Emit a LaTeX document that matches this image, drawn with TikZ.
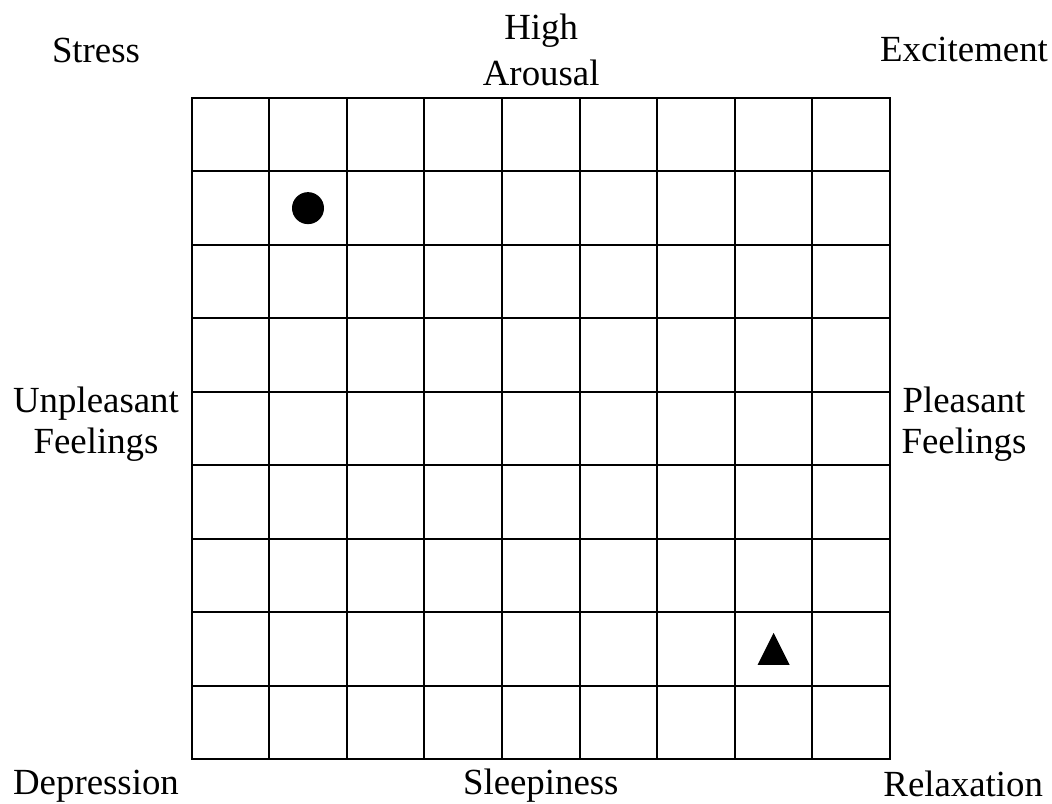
\documentclass[tikz,border=0pt]{standalone}
\usepackage{fontspec}
\setmainfont{Liberation Serif}
\usepackage{xcolor}
\usetikzlibrary{positioning, calc}

\begin{document}
\begin{tikzpicture}
  \tikzset{
    gridline/.style={line width=1.4pt, black},
    lbl/.style={font=\fontsize{26.2pt}{29.2pt}\selectfont, align=center, anchor=base, inner sep=0pt},
  }
  \useasboundingbox (0,0) rectangle (26.3,20.1);

  % Grid 9 x 9
  \foreach \i in {0,...,9} {
    \draw[gridline] ({4.79+\i*1.94},1.125) -- ({4.79+\i*1.94},17.65);
    \draw[gridline] (4.79,{1.125+\i*1.836}) -- (22.25,{1.125+\i*1.836});
  }
  \draw[gridline, line join=miter] (4.79,1.125) rectangle (22.25,17.65);

  % Markers
  \node[circle, fill=black, minimum size=0.8cm, inner sep=0pt] (dot) at (7.7,14.896) {};
  \coordinate (tri) at (19.34,3.88);
  \fill[black] ($(tri)+(0,0.4)$) -- ($(tri)+(-0.4,-0.4)$) -- ($(tri)+(0.4,-0.4)$) -- cycle;

  % Corner labels
  \node[lbl] (stress) at (2.4,18.525) {Stress};
  \node[lbl] (excite) at (24.1,18.55) {Excitement};
  \node[lbl] (depress) at (2.4,0.225) {Depression};
  \node[lbl] (relax) at (24.08,0.175) {Relaxation};

  % Axis labels (base = last line)
  \node[lbl] (arousal) at (13.53,17.95) {High\\[4.2pt]Arousal};
  \node[lbl] (sleepy) at (13.52,0.225) {Sleepiness};
  \node[lbl] (unpleasant) at (2.4,8.75) {Unpleasant\\Feelings};
  \node[lbl] (pleasant) at (24.1,8.75) {Pleasant\\Feelings};
\end{tikzpicture}
\end{document}
